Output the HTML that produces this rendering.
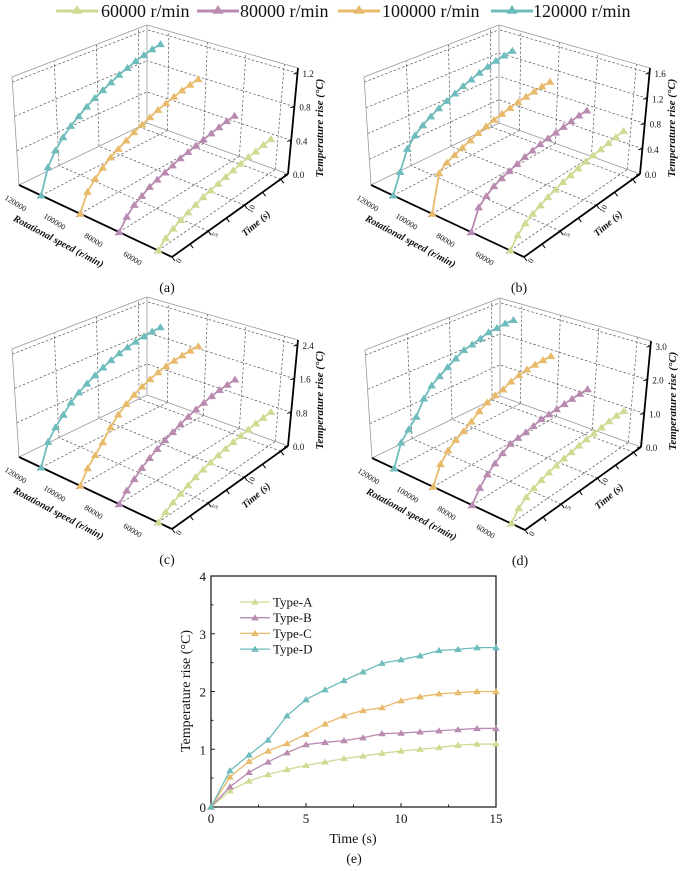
<!DOCTYPE html>
<html><head><meta charset="utf-8"><style>
html,body{margin:0;padding:0;background:#fff;}
svg{display:block;font-family:"Liberation Serif",serif;}
</style></head><body>
<svg id="fig" width="685" height="871" viewBox="0 0 685 871" xmlns="http://www.w3.org/2000/svg"></svg>
<script>
// ---------- data ----------
const timeValues = [0,1,2,3,4,5,6,7,8,9,10,11,12,13,14,15];
const speedValues = [60000,80000,100000,120000];
const speedLabels = ["60000","80000","100000","120000"];
const timeTicks = [0,5,10];
const a60  = [0,0.08,0.13,0.17,0.20,0.23,0.26,0.28,0.30,0.32,0.34,0.36,0.38,0.39,0.41,0.42];
const a80  = [0,0.12,0.20,0.25,0.30,0.33,0.36,0.39,0.42,0.44,0.46,0.48,0.50,0.52,0.54,0.55];
const a100 = [0,0.20,0.30,0.38,0.45,0.50,0.55,0.60,0.64,0.68,0.72,0.75,0.78,0.81,0.83,0.85];
const a120 = [0,0.28,0.43,0.54,0.63,0.70,0.77,0.83,0.88,0.93,0.98,1.02,1.06,1.09,1.12,1.14];
const b60  = [0,0.15,0.25,0.32,0.37,0.42,0.46,0.50,0.53,0.56,0.59,0.61,0.63,0.65,0.67,0.69];
const b80  = [0,0.30,0.40,0.48,0.53,0.57,0.61,0.65,0.68,0.71,0.73,0.75,0.77,0.79,0.81,0.82];
const b100 = [0,0.55,0.65,0.70,0.75,0.80,0.85,0.89,0.93,0.96,0.99,1.02,1.04,1.06,1.08,1.09];
const b120 = [0,0.30,0.60,0.75,0.85,0.93,1.00,1.06,1.12,1.18,1.23,1.28,1.32,1.36,1.39,1.41];
const c60  = [0,0.12,0.22,0.30,0.38,0.45,0.51,0.56,0.61,0.65,0.69,0.72,0.75,0.78,0.80,0.82];
const c80  = [0,0.20,0.35,0.50,0.62,0.72,0.82,0.90,0.98,1.05,1.12,1.17,1.22,1.26,1.28,1.30];
const c100 = [0,0.30,0.50,0.70,0.95,1.15,1.30,1.42,1.52,1.60,1.67,1.72,1.76,1.79,1.81,1.82];
const c120 = [0,0.50,0.75,0.95,1.15,1.30,1.42,1.53,1.63,1.72,1.80,1.86,1.91,1.95,1.98,2.00];
const d60  = [0,0.28,0.45,0.56,0.65,0.72,0.78,0.84,0.88,0.93,0.97,1.00,1.03,1.07,1.09,1.09];
const d80  = [0,0.35,0.60,0.78,0.94,1.08,1.12,1.15,1.20,1.27,1.28,1.30,1.32,1.34,1.36,1.36];
const d100 = [0,0.52,0.79,0.97,1.10,1.26,1.44,1.58,1.67,1.72,1.84,1.91,1.96,1.98,2.00,2.00];
const d120 = [0,0.63,0.90,1.16,1.58,1.86,2.03,2.19,2.34,2.49,2.55,2.62,2.71,2.73,2.76,2.76];
const typeA = [0,0.28,0.45,0.56,0.65,0.72,0.78,0.84,0.88,0.93,0.97,1.00,1.03,1.07,1.09,1.09];
const typeB = [0,0.35,0.60,0.78,0.94,1.08,1.12,1.15,1.20,1.27,1.28,1.30,1.32,1.34,1.36,1.36];
const typeC = [0,0.52,0.79,0.97,1.10,1.26,1.44,1.58,1.67,1.72,1.84,1.91,1.96,1.98,2.00,2.00];
const typeD = [0,0.63,0.90,1.16,1.58,1.86,2.03,2.19,2.34,2.49,2.55,2.62,2.71,2.73,2.76,2.76];
const eXTicks = [0,5,10,15];
const eYTicks = [0,1,2,3,4];
const zTicksA = [0,0.4,0.8,1.2];
const zTicksB = [0,0.4,0.8,1.2,1.6];
const zTicksC = [0,0.8,1.6,2.4];
const zTicksD = [0,1,2,3];
const legendLabels = ["60000 r/min","80000 r/min","100000 r/min","120000 r/min"];
const typeLabels = ["Type-A","Type-B","Type-C","Type-D"];

const COLORS = ["#cddb93","#b98bb1","#e8bb6c","#6fbcbd"];
const NS = "http://www.w3.org/2000/svg";
const svg = document.getElementById('fig');

function mk(tag, attrs, parent, name, inter){
  const el = document.createElementNS(NS, tag);
  for (const k in attrs) el.setAttribute(k, attrs[k]);
  
  
  (parent || svg).appendChild(el);
  return el;
}
function txt(parent, x, y, s, size, name, extra){
  const a = Object.assign({x:x, y:y, 'font-size':size, fill:'#111'}, extra||{});
  const el = mk('text', a, parent, name, false);
  el.textContent = s;
  return el;
}
function tri(parent, x, y, r, color, name){
  return mk('polygon', {points:`${x},${y-r} ${x-r*1.1},${y+r*0.75} ${x+r*1.1},${y+r*0.75}`, fill:color}, parent, name, false);
}

// ---------- top legend ----------
const legend = mk('g', {}, svg, 'top-legend', false);
const legX = [56,197,338,491];
const legTextX = [101,240,382,533];
legendLabels.forEach((lab,i)=>{
  const item = mk('g', {}, legend, 'legend-entry-'+speedLabels[i], true);
  mk('line', {x1:legX[i], y1:11, x2:legX[i]+42, y2:11, stroke:COLORS[i], 'stroke-width':3}, item, 'legend-line', false);
  tri(item, legX[i]+21, 10, 5, COLORS[i], 'legend-marker');
  txt(item, legTextX[i], 17, lab, 18, 'legend-label');
});

// ---------- 3D panels ----------
const F={x:172,y:257}, L={x:19,y:185}, R={x:288,y:174}, B={x:147,y:123};
const H={F:116,L:108,R:106,B:98}, LEAN={F:3,L:-7,R:10,B:0};
function bil(f,l,r,b,u,v){ return f + u*(l-f) + v*(r-f) + u*v*(b-l-r+f); }
function speedU(s){ return (s-52941)/78431; }
function timeV(t){ return t/16; }

function draw3D(ox, oy, zTicks, series, panelName, tag){
  const g = mk('g', {transform:`translate(${ox},${oy})`}, svg, panelName, false);
  const zTop = zTicks[zTicks.length-1]*1.05;
  function P(u,v,z){
    const bx = bil(F.x,L.x,R.x,B.x,u,v), by = bil(F.y,L.y,R.y,B.y,u,v);
    const h = bil(H.F,H.L,H.R,H.B,u,v), ln = bil(LEAN.F,LEAN.L,LEAN.R,LEAN.B,u,v);
    const f = z/zTop;
    return {x: bx + ln*f, y: by - h*f};
  }
  function seg(p,q,attrs,name){ return mk('line', Object.assign({x1:p.x,y1:p.y,x2:q.x,y2:q.y}, attrs), g, name, false); }
  const dash = {stroke:'#555','stroke-width':0.7,'stroke-dasharray':'2.5,2'};
  const solid = {stroke:'#999','stroke-width':0.8};
  const gridT = [5,10,15];
  // floor grid
  gridT.forEach(t=>{ seg(P(0,timeV(t),0), P(1,timeV(t),0), dash, 'floor-grid-time'); });
  speedValues.forEach(s=>{ seg(P(speedU(s),0,0), P(speedU(s),1,0), dash, 'floor-grid-speed'); });
  // left wall
  zTicks.slice(1).forEach(z=>{ seg(P(1,0,z), P(1,1,z), dash, 'left-wall-grid-z'); });
  gridT.forEach(t=>{ seg(P(1,timeV(t),0), P(1,timeV(t),zTop), dash, 'left-wall-grid-time'); });
  // right wall
  zTicks.slice(1).forEach(z=>{ seg(P(0,1,z), P(1,1,z), dash, 'right-wall-grid-z'); });
  speedValues.forEach(s=>{ seg(P(speedU(s),1,0), P(speedU(s),1,zTop), dash, 'right-wall-grid-speed'); });
  // box edges
  seg(P(1,0,0),P(1,1,0),solid,'box-edge'); seg(P(1,1,0),P(0,1,0),solid,'box-edge');
  seg(P(1,0,0),P(1,0,zTop),solid,'box-edge'); seg(P(1,1,0),P(1,1,zTop),solid,'box-edge');
  seg(P(1,0,zTop),P(1,1,zTop),solid,'box-edge'); seg(P(1,1,zTop),P(0,1,zTop),solid,'box-edge');
  // axes
  const ax = {stroke:'#000','stroke-width':1.8};
  seg(P(0,0,0),P(1,0,0),ax,'speed-axis');
  seg(P(0,0,0),P(0,1,0),ax,'time-axis');
  seg(P(0,1,0),P(0,1,zTop),ax,'z-axis');
  // speed ticks & labels
  speedValues.forEach((s,i)=>{
    const p = P(speedU(s),0,0);
    seg(p,{x:p.x-4,y:p.y+3},{stroke:'#000','stroke-width':1},'speed-tick');
    txt(g, p.x-27, p.y+10, speedLabels[i], 8, 'speed-tick-label', {'text-anchor':'middle', transform:`rotate(32 ${p.x-27} ${p.y+10})`});
  });
  // time ticks
  [0,2.5,5,7.5,10,12.5,15].forEach(t=>{
    const p = P(0,timeV(t),0);
    seg(p,{x:p.x+3,y:p.y+4},{stroke:'#000','stroke-width':1},'time-tick');
  });
  timeTicks.forEach(t=>{
    const p = P(0,timeV(t),0);
    const lx = p.x+9, ly = p.y+5;
    txt(g, lx, ly, String(t), 8, 'time-tick-label', {'text-anchor':'middle', transform:`rotate(-60 ${lx} ${ly})`});
  });
  // z ticks
  zTicks.forEach(z=>{
    const p = P(0,1,z);
    seg(p,{x:p.x-4,y:p.y+1},{stroke:'#000','stroke-width':1},'z-tick');
    txt(g, p.x+5, p.y+4, z.toFixed(1), 9, 'z-tick-label');
  });
  // titles
  txt(g, 57, 244, 'Rotational speed (r/min)', 10, 'speed-axis-title', {'text-anchor':'middle','font-weight':'bold','font-style':'italic', transform:'rotate(28 57 244)'});
  txt(g, 258, 226, 'Time (s)', 10, 'time-axis-title', {'text-anchor':'middle','font-weight':'bold','font-style':'italic', transform:'rotate(-40 258 226)'});
  txt(g, 323, 128, 'Temperature rise (°C)', 11, 'z-axis-title', {'text-anchor':'middle','font-weight':'bold','font-style':'italic', transform:'rotate(-90 323 128)'});
  // series (back to front)
  for (let i=series.length-1; i>=0; i--){
    const sg = mk('g', {}, g, 'series-'+speedLabels[i], false);
    const u = speedU(speedValues[i]);
    const pts = series[i].map((z,k)=>P(u,timeV(timeValues[k]),z));
    mk('polyline', {points:pts.map(p=>p.x+','+p.y).join(' '), fill:'none', stroke:COLORS[i], 'stroke-width':1.8}, sg, 'series-line', false);
    pts.forEach(p=>tri(sg, p.x, p.y, 4, COLORS[i], 'series-marker'));
  }
  txt(svg, ox+167, oy+292, '('+tag+')', 14, 'panel-label-'+tag, {'text-anchor':'middle'});
}
draw3D(0,0,zTicksA,[a60,a80,a100,a120],'panel-a','a');
draw3D(352,0,zTicksB,[b60,b80,b100,b120],'panel-b','b');
draw3D(0,272,zTicksC,[c60,c80,c100,c120],'panel-c','c');
draw3D(353,273,zTicksD,[d60,d80,d100,d120],'panel-d','d');

// ---------- panel e ----------
const e = mk('g', {}, svg, 'panel-e', false);
const X0=211, X1=496, Y0=807, Y1=576;
function ex(t){ return X0 + (t-0)/15*(X1-X0); }
function ey(v){ return Y0 - v/4*(Y0-Y1); }
mk('rect', {x:X0,y:Y1,width:X1-X0,height:Y0-Y1,fill:'none',stroke:'#222','stroke-width':1.3}, e, 'plot-frame', false);
eXTicks.forEach(t=>{
  mk('line',{x1:ex(t),y1:Y0,x2:ex(t),y2:Y0-4,stroke:'#222','stroke-width':1},e,'x-tick',false);
  txt(e, ex(t), Y0+16, String(t), 13, 'x-tick-label', {'text-anchor':'middle'});
});
[2.5,7.5,12.5].forEach(t=>{ mk('line',{x1:ex(t),y1:Y0,x2:ex(t),y2:Y0-2.5,stroke:'#222','stroke-width':1},e,'x-minor-tick',false); });
eYTicks.forEach(v=>{
  mk('line',{x1:X0,y1:ey(v),x2:X0+4,y2:ey(v),stroke:'#222','stroke-width':1},e,'y-tick',false);
  txt(e, X0-5, ey(v)+5, String(v), 13, 'y-tick-label', {'text-anchor':'end'});
});
[0.5,1.5,2.5,3.5].forEach(v=>{ mk('line',{x1:X0,y1:ey(v),x2:X0+2.5,y2:ey(v),stroke:'#222','stroke-width':1},e,'y-minor-tick',false); });
txt(e, 353, 843, 'Time (s)', 14, 'x-axis-title', {'text-anchor':'middle'});
txt(e, 190, 691, 'Temperature rise (°C)', 14, 'y-axis-title', {'text-anchor':'middle', transform:'rotate(-90 190 691)'});
txt(e, 354, 863, '(e)', 14, 'panel-label-e', {'text-anchor':'middle'});
const eSeries = [typeA,typeB,typeC,typeD];
eSeries.forEach((arr,i)=>{
  const sg = mk('g', {}, e, 'series-'+typeLabels[i], false);
  const pts = arr.map((v,k)=>({x:ex(timeValues[k]), y:ey(v)}));
  mk('polyline', {points:pts.map(p=>p.x+','+p.y).join(' '), fill:'none', stroke:COLORS[i], 'stroke-width':1.3}, sg, 'series-line', false);
  pts.forEach(p=>tri(sg, p.x, p.y, 3.5, COLORS[i], 'series-marker'));
});
const eLeg = mk('g', {}, e, 'legend', false);
typeLabels.forEach((lab,i)=>{
  const y = 602 + i*15.7;
  const item = mk('g', {}, eLeg, 'legend-entry-'+lab, true);
  mk('line',{x1:240,y1:y,x2:270,y2:y,stroke:COLORS[i],'stroke-width':1.3},item,'legend-line',false);
  tri(item, 255, y, 3.5, COLORS[i], 'legend-marker');
  txt(item, 273, y+4.5, lab, 13, 'legend-label');
});
</script>
</body></html>
